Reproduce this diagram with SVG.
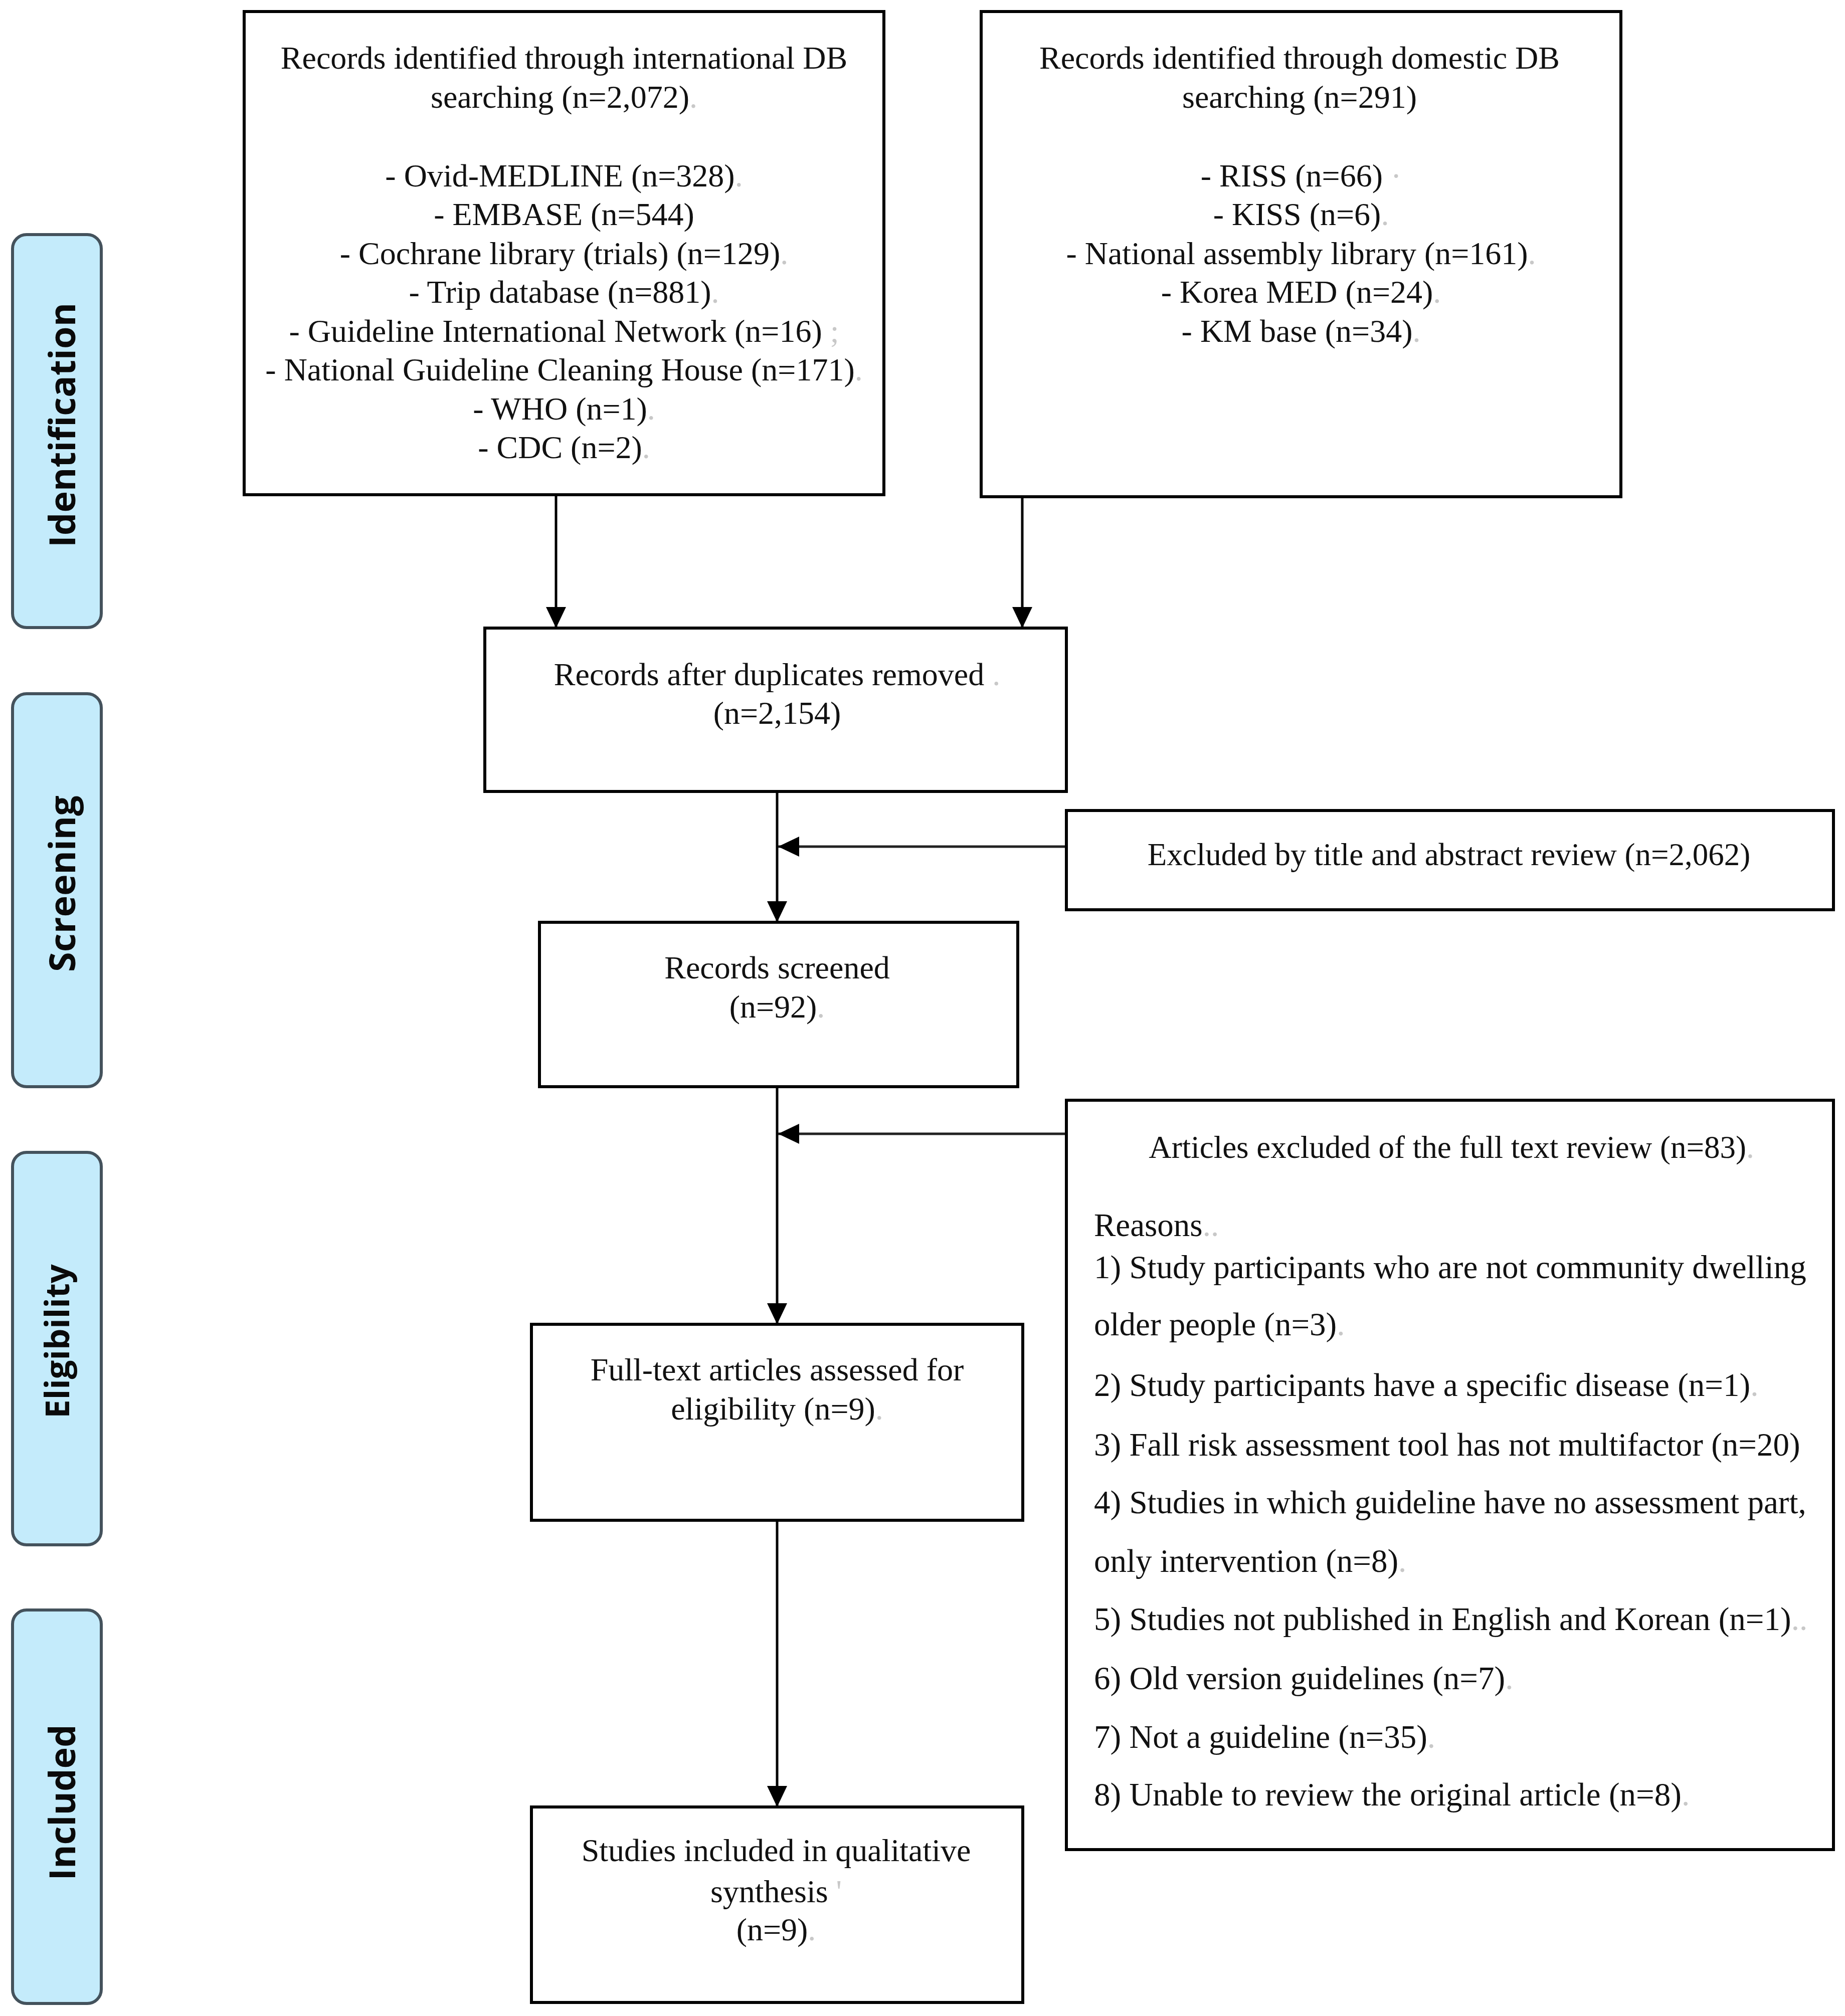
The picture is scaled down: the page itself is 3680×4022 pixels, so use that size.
<svg xmlns="http://www.w3.org/2000/svg" width="3680" height="4022" viewBox="0 0 3680 4022">
<style>
.box{fill:#ffffff;stroke:#000000;stroke-width:6}
.lab{fill:#c4ebfb;stroke:#44525c;stroke-width:6}
.lt{font-family:"Open Sans","DejaVu Sans",sans-serif;font-weight:bold;font-size:72px;fill:#0a0a0a;text-anchor:middle}
.t{font-family:"Liberation Serif","Times New Roman",serif;font-size:63px;fill:#111111;text-anchor:middle}
.t4{font-size:64px}
.tl{font-family:"Liberation Serif","Times New Roman",serif;font-size:65px;fill:#111111;text-anchor:start}
.f{fill:#c8c8c8}
.c{stroke:#000000;stroke-width:5;fill:none}
.ch{stroke:#222222;stroke-width:5;fill:none}
</style>
<defs>
<marker id="ah" viewBox="0 0 42 40" refX="42" refY="20" markerWidth="42" markerHeight="40" markerUnits="userSpaceOnUse" orient="auto">
<path d="M0,0 L42,20 L0,40 Z" fill="#000000"/>
</marker>
</defs>
<rect width="3680" height="4022" fill="#ffffff"/>

<g id="label-identification">
<rect class="lab" x="25" y="468" width="177" height="784" rx="28"/>
<text class="lt" transform="translate(150,848) rotate(-90)">Identification</text>
</g>
<g id="label-screening">
<rect class="lab" x="25" y="1384" width="177" height="784" rx="28"/>
<text class="lt" transform="translate(150,1763) rotate(-90)">Screening</text>
</g>
<g id="label-eligibility">
<rect class="lab" x="25" y="2299" width="177" height="783" rx="28"/>
<text class="lt" style="font-size:67px" transform="translate(138,2676) rotate(-90)">Eligibility</text>
</g>
<g id="label-included">
<rect class="lab" x="25" y="3212" width="177" height="785" rx="28"/>
<text class="lt" transform="translate(150,3596) rotate(-90)">Included</text>
</g>

<g id="connectors">
<line class="c" x1="1109" y1="987" x2="1109" y2="1253" marker-end="url(#ah)"/>
<line class="c" x1="2039" y1="991" x2="2039" y2="1253" marker-end="url(#ah)"/>
<line class="c" x1="1550" y1="1579" x2="1550" y2="1840" marker-end="url(#ah)"/>
<line class="ch" x1="2127" y1="1689" x2="1552" y2="1689" marker-end="url(#ah)"/>
<line class="c" x1="1550" y1="2168" x2="1550" y2="2642" marker-end="url(#ah)"/>
<line class="ch" x1="2127" y1="2262" x2="1552" y2="2262" marker-end="url(#ah)"/>
<line class="c" x1="1550" y1="3033" x2="1550" y2="3605" marker-end="url(#ah)"/>
</g>

<g id="node-international">
<rect class="box" x="487" y="23" width="1276" height="964"/>
<text class="t t4" x="1125" y="137">Records identified through international DB</text>
<text class="t t4" x="1125" y="215">searching (n=2,072)<tspan class="f">.</tspan></text>
<text class="t t4" x="1125" y="372">- Ovid-MEDLINE (n=328)<tspan class="f">.</tspan></text>
<text class="t t4" x="1125" y="449">- EMBASE (n=544)</text>
<text class="t t4" x="1125" y="527">- Cochrane library (trials) (n=129)<tspan class="f">.</tspan></text>
<text class="t t4" x="1125" y="604">- Trip database (n=881)<tspan class="f">.</tspan></text>
<text class="t t4" x="1125" y="682">- Guideline International Network (n=16)<tspan class="f"> ;</tspan></text>
<text class="t t4" x="1125" y="759">- National Guideline Cleaning House (n=171)<tspan class="f">.</tspan></text>
<text class="t t4" x="1125" y="837">- WHO (n=1)<tspan class="f">.</tspan></text>
<text class="t t4" x="1125" y="914">- CDC (n=2)<tspan class="f">.</tspan></text>
</g>

<g id="node-domestic">
<rect class="box" x="1957" y="23" width="1276" height="968"/>
<text class="t t4" x="2592" y="137">Records identified through domestic DB</text>
<text class="t t4" x="2592" y="215">searching (n=291)</text>
<text class="t t4" x="2595" y="372">- RISS (n=66)<tspan class="f"> ·</tspan></text>
<text class="t t4" x="2595" y="449">- KISS (n=6)<tspan class="f">.</tspan></text>
<text class="t t4" x="2595" y="527">- National assembly library (n=161)<tspan class="f">.</tspan></text>
<text class="t t4" x="2595" y="604">- Korea MED (n=24)<tspan class="f">.</tspan></text>
<text class="t t4" x="2595" y="682">- KM base (n=34)<tspan class="f">.</tspan></text>
</g>

<g id="node-duplicates">
<rect class="box" x="967" y="1253" width="1160" height="326"/>
<text class="t t4" x="1550" y="1367">Records after duplicates removed<tspan class="f"> .</tspan></text>
<text class="t t4" x="1550" y="1444">(n=2,154)</text>
</g>

<g id="node-excluded-title">
<rect class="box" x="2127" y="1617" width="1530" height="198"/>
<text class="t" x="2890" y="1726">Excluded by title and abstract review (n=2,062)</text>
</g>

<g id="node-screened">
<rect class="box" x="1076" y="1840" width="954" height="328"/>
<text class="t t4" x="1550" y="1952">Records screened</text>
<text class="t t4" x="1550" y="2030">(n=92)<tspan class="f">.</tspan></text>
</g>

<g id="node-excluded-fulltext">
<rect class="box" x="2127" y="2195" width="1530" height="1495"/>
<text class="t" x="2895" y="2310">Articles excluded of the full text review (n=83)<tspan class="f">.</tspan></text>
<text class="tl" x="2182" y="2466">Reasons<tspan class="f">..</tspan></text>
<text class="tl" x="2182" y="2550">1) Study participants who are not community dwelling</text>
<text class="tl" x="2182" y="2664">older people (n=3)<tspan class="f">.</tspan></text>
<text class="tl" x="2182" y="2785">2) Study participants have a specific disease (n=1)<tspan class="f">.</tspan></text>
<text class="tl" x="2182" y="2904">3) Fall risk assessment tool has not multifactor (n=20)</text>
<text class="tl" x="2182" y="3019">4) Studies in which guideline have no assessment part,</text>
<text class="tl" x="2182" y="3136">only intervention (n=8)<tspan class="f">.</tspan></text>
<text class="tl" x="2182" y="3252">5) Studies not published in English and Korean (n=1)<tspan class="f">..</tspan></text>
<text class="tl" x="2182" y="3370">6) Old version guidelines (n=7)<tspan class="f">.</tspan></text>
<text class="tl" x="2182" y="3487">7) Not a guideline (n=35)<tspan class="f">.</tspan></text>
<text class="tl" x="2182" y="3602">8) Unable to review the original article (n=8)<tspan class="f">.</tspan></text>
</g>

<g id="node-fulltext">
<rect class="box" x="1060" y="2642" width="980" height="391"/>
<text class="t t4" x="1550" y="2754">Full-text articles assessed for</text>
<text class="t t4" x="1550" y="2832">eligibility (n=9)<tspan class="f">.</tspan></text>
</g>

<g id="node-included">
<rect class="box" x="1060" y="3605" width="980" height="390"/>
<text class="t t4" x="1548" y="3713">Studies included in qualitative</text>
<text class="t t4" x="1548" y="3795">synthesis<tspan class="f"> '</tspan></text>
<text class="t t4" x="1548" y="3871">(n=9)<tspan class="f">.</tspan></text>
</g>
</svg>
